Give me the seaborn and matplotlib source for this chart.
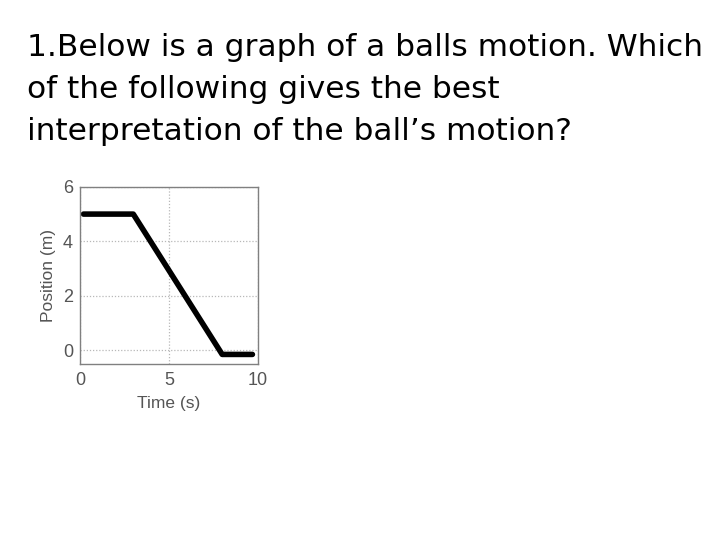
import matplotlib
matplotlib.use("Agg")
import matplotlib.pyplot as plt
import seaborn as sns
import pandas as pd

# Question text, one entry per line
question_lines = [
    "1.Below is a graph of a balls motion. Which",
    "of the following gives the best",
    "interpretation of the ball\u2019s motion?",
]

# Position-time data
time_s = [0.2, 3.0, 8.0, 9.7]
position_m = [5.0, 5.0, -0.15, -0.15]

x_ticks = [0, 5, 10]
y_ticks = [0, 2, 4, 6]

sns.set_theme(style="white")
plt.rcParams['font.family'] = ['Liberation Sans', 'DejaVu Sans']

df = pd.DataFrame({"Time (s)": time_s, "Position (m)": position_m})

fig = plt.figure(figsize=(7.2, 5.4), dpi=100)
ax = fig.add_axes([0.111, 0.326, 0.247, 0.328])

sns.lineplot(data=df, x="Time (s)", y="Position (m)", ax=ax,
             color="black", linewidth=4, sort=False)

ax.set_xlim(0, 10)
ax.set_ylim(-0.5, 6)
ax.set_xticks(x_ticks)
ax.set_yticks(y_ticks)
ax.grid(True, linestyle=(0, (1, 1.5)), color="#b8b8b8", linewidth=0.9)
ax.tick_params(direction="in", length=3, colors="#707070", labelsize=13,
               labelcolor="#555555")
ax.tick_params(axis="x", pad=6)
ax.tick_params(axis="y", pad=5)
for s in ax.spines.values():
    s.set_color("#808080")
    s.set_linewidth(1)
ax.set_xlabel("Time (s)", fontsize=12.5, color="#555555", labelpad=5)
ax.set_ylabel("Position (m)", fontsize=12.5, color="#555555", labelpad=5)

# question text with fixed baselines
baselines = [56, 98, 140]
for line, yb in zip(question_lines, baselines):
    fig.text(27 / 720, 1 - yb / 540, line, fontsize=22.5, color="black",
             ha="left", va="baseline", family=['DejaVu Sans'])

fig.savefig("out.png", dpi=100)
